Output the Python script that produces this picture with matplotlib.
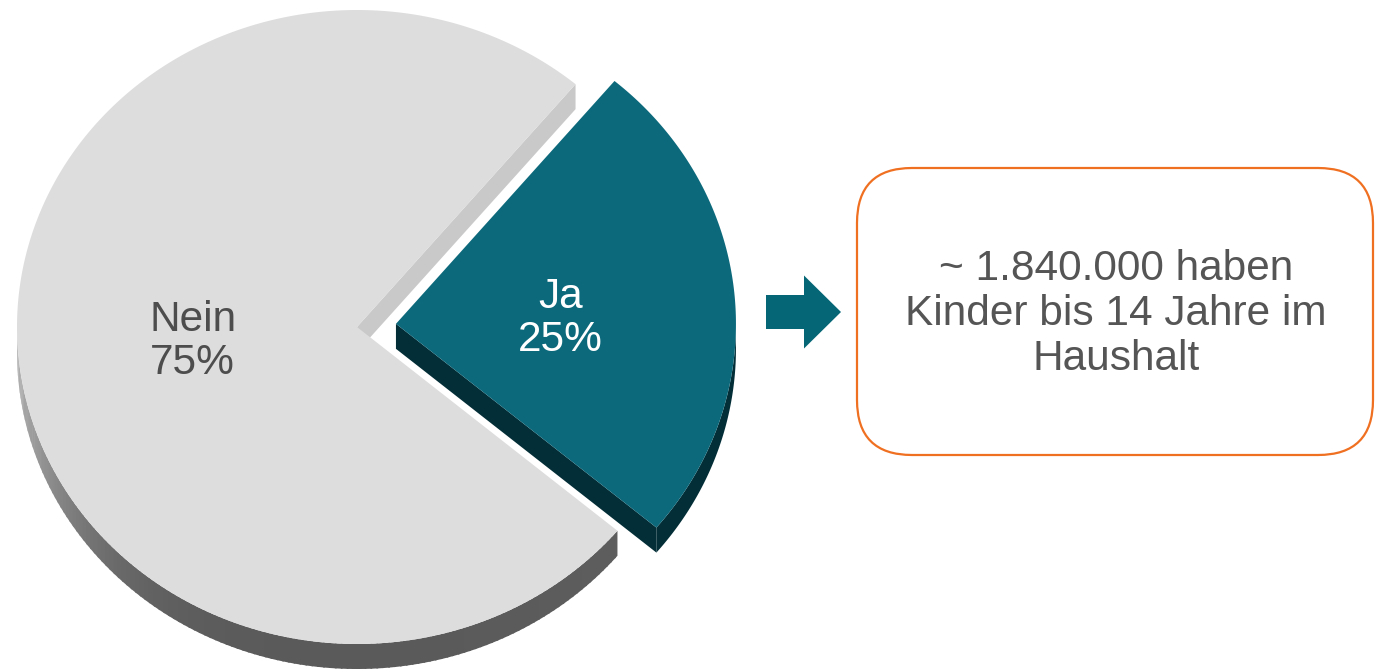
import numpy as np
import matplotlib
matplotlib.use("Agg")
import matplotlib.pyplot as plt
from matplotlib.patches import Polygon, FancyBboxPatch, FancyArrow

# ---- data ----
labels = ["Nein", "Ja"]
values = [75, 25]
pct_labels = ["75%", "25%"]
note_lines = ["~ 1.840.000 haben", "Kinder bis 14 Jahre im", "Haushalt"]

# ---- style / layout ----
W, H = 1377, 672
top_colors = ["#dddddd", "#0c697c"]
side_colors = [None, "#032e37"]
cut_wall_colors = ["#c9c9c9", "#032e37"]
label_colors = ["#4d4d4d", "#ffffff"]
label_dy = [1, 8]
explode = [0.0, 0.115]
CX, CY = 357, 327
RX, RY = 340, 317
DEPTH = 25
START = -40.0
FONT = ["Liberation Sans", "DejaVu Sans"]

plt.rcParams["font.family"] = FONT

fig = plt.figure(figsize=(W / 100, H / 100), dpi=100)
ax = fig.add_axes([0, 0, 1, 1])
ax.set_xlim(0, W)
ax.set_ylim(H, 0)
ax.axis("off")


def pt(cx, cy, t, f=1.0):
    return cx + f * RX * np.cos(t), cy - f * RY * np.sin(t)


total = float(sum(values))
spans = [v / total * 360.0 for v in values]
ranges = {}
a0 = START
for i in [1, 0]:
    ranges[i] = (a0, a0 + spans[i])
    a0 += spans[i]


def nein_rim_shade(tdeg):
    t = np.radians(tdeg)
    s = -np.sin(t)
    left = max(0.0, -np.cos(t))
    v = 100 - 10 * s + 75 * left ** 5
    v = min(v, 175)
    return (v / 255, v / 255, v / 255)


for i in [0, 1]:
    d0, d1 = ranges[i]
    mid = np.radians((d0 + d1) / 2)
    ox, oy = pt(0, 0, mid, explode[i])
    cx, cy = CX + ox, CY + oy
    t0, t1 = np.radians(d0), np.radians(d1)

    for t, sign in [(t0, -1), (t1, 1)]:
        normal = t + sign * np.pi / 2
        if np.sin(normal) < 0:
            px, py = pt(cx, cy, t)
            quad = [(cx, cy), (px, py), (px, py + DEPTH), (cx, cy + DEPTH)]
            ax.add_patch(Polygon(quad, closed=True, facecolor=cut_wall_colors[i],
                                 edgecolor="none", zorder=2 + 3 * i))

    degs = np.linspace(d0, d1, 600)
    vis = [d for d in degs if np.sin(np.radians(d)) < 0.0]
    if vis:
        if side_colors[i] is None:
            step = 1.0
            dd = np.arange(min(vis), max(vis), step)
            for a in dd:
                b = min(a + step + 0.3, max(vis))
                ts = np.radians(np.linspace(a, b, 4))
                xs, ys = pt(cx, cy, ts)
                poly = list(zip(xs, ys)) + list(zip(xs[::-1], ys[::-1] + DEPTH))
                ax.add_patch(Polygon(poly, closed=True, facecolor=nein_rim_shade(a + step / 2),
                                     edgecolor="none", zorder=2 + 3 * i))
        else:
            ts = np.radians(np.array(vis))
            xs, ys = pt(cx, cy, ts)
            poly = list(zip(xs, ys)) + list(zip(xs[::-1], ys[::-1] + DEPTH))
            ax.add_patch(Polygon(poly, closed=True, facecolor=side_colors[i],
                                 edgecolor="none", zorder=2 + 3 * i))

    ts = np.radians(np.linspace(d0, d1, 400))
    xs, ys = pt(cx, cy, ts)
    poly = [(cx, cy)] + list(zip(xs, ys))
    ax.add_patch(Polygon(poly, closed=True, facecolor=top_colors[i],
                         edgecolor="none", zorder=3 + 3 * i))

    lx, ly = pt(cx, cy, mid, 0.485)
    ax.text(lx, ly + label_dy[i], f"{labels[i]}\n{pct_labels[i]}", ha="center", va="center",
            fontsize=30.5, color=label_colors[i], linespacing=1.12, zorder=10)

ax.add_patch(FancyArrow(766, 312, 75, 0, width=34, head_width=73, head_length=37,
                        length_includes_head=True, facecolor="#056675",
                        edgecolor="none", zorder=5))

ax.add_patch(FancyBboxPatch((857, 168), 516, 287,
                            boxstyle="round,pad=0,rounding_size=55",
                            facecolor="white", edgecolor="#f07022",
                            linewidth=1.6, zorder=5))
ax.text(1116, 314, "\n".join(note_lines), ha="center", va="center",
        fontsize=30.5, color="#555555", linespacing=1.15, zorder=6)

fig.savefig("out.png", dpi=100)
